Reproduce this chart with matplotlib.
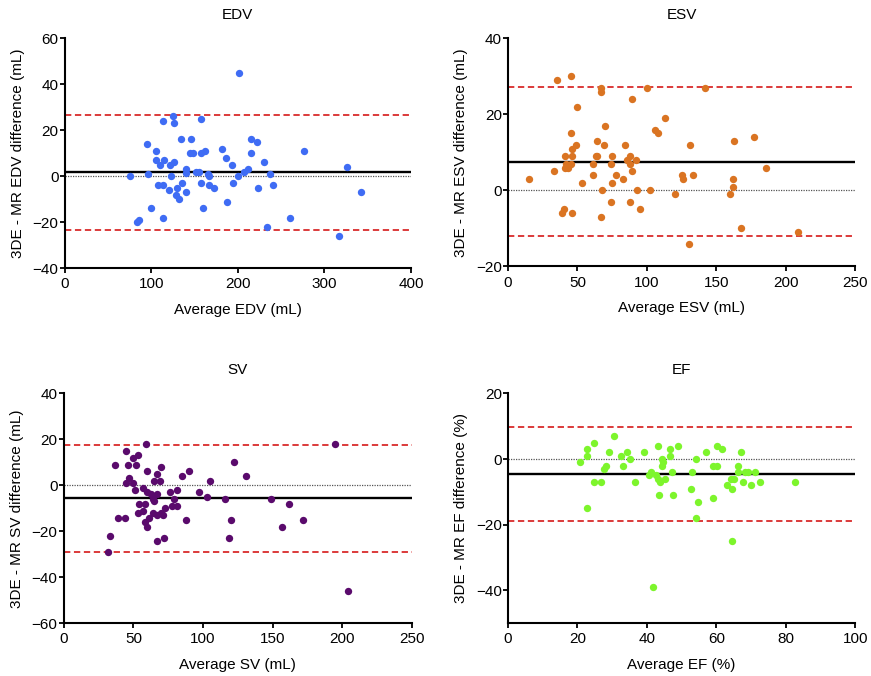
import matplotlib
matplotlib.use('Agg')
import matplotlib.pyplot as plt

plt.rcParams['font.family'] = ['Liberation Sans', 'DejaVu Sans']

# EDV: average vs difference (mL)
edv_avg = [76, 95, 96, 105, 106, 110, 115, 108, 114, 120, 100, 83, 86, 113, 113, 125, 126,
           122, 126, 123, 129, 132, 130, 135, 140, 134, 140, 140, 146, 145, 148, 152, 155,
           157, 157, 157, 162, 160, 165, 167, 167, 172, 182, 186, 193, 194, 188, 200, 201,
           207, 212, 215, 222, 215, 230, 237, 223, 241, 276, 260, 234, 326, 342, 317]
edv_diff = [0, 14, 1, 11, 7, 5, 7, -4, -4, -6, -14, -20, -19, -18, 24, 26, 23,
            5, 6, 0, -8, -10, -5, -3, -7, 16, 3, 1.5, 16, 10, 10, 2, 2,
            25, -3, 10, 11, -14, 1, 0, -4, -5, 12, 8, 5, -3, -11, 0, 45,
            2, 3, 16, 15, 10, 6, 1, -5, -4, 11, -18, -22, 4, -7, -26]
edv_bias, edv_upper, edv_lower = 1.7, 26.5, -23.2

# ESV
esv_avg = [15, 35, 45, 33, 40, 39, 46, 41, 46, 41, 43, 42, 45, 46, 45, 49, 50, 53,
           61, 61, 63, 64, 64, 67, 67, 69, 70, 68, 67, 74, 75, 78, 75, 74, 83, 84,
           86, 88, 88, 89, 92, 89, 88, 93, 95, 100, 102, 106, 108, 113, 120, 125, 126,
           131, 133, 142, 130, 160, 162, 162, 163, 177, 186, 168, 209]
esv_diff = [3, 29, 30, 5, -5, -6, -6, 9, 9, 6, 6, 7, 7, 11, 15, 12, 22, 2,
            7, 4, 9, 9, 13, 27, 26, 12, 17, 0, -7, 7, 9, 4, 2, -3, 3, 12,
            8, 9, 7, 5, 8, 24, -3, 0, -5, 27, 0, 16, 15, 19, -1, 4, 3,
            12, 4, 27, -14, -1, 3, 1, 13, 14, 6, -10, -11]
esv_bias, esv_upper, esv_lower = 7.5, 27.1, -12.1

# SV
sv_avg = [33, 32, 37, 39, 44, 45, 46, 45, 47, 50, 50, 53, 52, 51, 54, 53, 57, 58, 57,
          59, 60, 60, 58, 60, 61, 63, 64, 65, 64, 65, 67, 67, 69, 67, 67, 70, 70, 71,
          72, 73, 76, 79, 78, 81, 81, 85, 88, 90, 97, 103, 105, 116, 119, 120, 122,
          131, 149, 162, 157, 172, 195, 204]
sv_diff = [-22, -29, 9, -14, -14, 15, 9, 1, 3, 1, 12, 13, 9, -2, -8, -12, -11, -8, -1,
           18, 6, -3, -16, -18, -14, -4, -6, -7, -12, 2, 5, -4, 2, -13, -24, 8, -12, -13,
           -23, -10, -3, -6, -9, -2, -9, 4, -15, 6, -3, -5, 2, -6, -23, -15, 10,
           4, -6, -8, -18, -15, 18, -46]
sv_bias, sv_upper, sv_lower = -5.7, 17.6, -29.1

# EF (%)
ef_avg = [20.6, 22.7, 22.7, 22.7, 24.7, 24.7, 26.7, 27.6, 28.1, 29.2, 30.6, 32.6, 33.2,
          34.2, 35.1, 36.7, 39.2, 40.6, 41.1, 41.7, 42.6, 43.2, 43.2, 43.7, 43.6, 44.2,
          44.6, 44.2, 45.1, 46.6, 46.6, 47.1, 47.6, 49.0, 54.1, 53.1, 52.6, 54.6, 54.1,
          57.1, 59.1, 60.1, 60.1, 61.6, 59.1, 63.1, 64.1, 65.1, 64.6, 64.6, 66.1, 66.1,
          67.1, 67.6, 68.1, 69.1, 70.1, 71.1, 72.6, 82.6]
ef_diff = [-1, 3, 1, -15, 5, -7, -7, -3, -2, 2, 7, 1, -2,
           2, 0, -7, 2, -5, -4, -39, -5, 4, -6, -7, -11, 0,
           -1, -2, -6, 3, 1, -4, -11, 4, 0, -4, -9, -13, -18,
           2, -2, -2, 4, 3, -12, -8, -6, -6, -9, -25, -2, -4,
           2, -7, -4, -4, -8, -4, -7, -7]
ef_bias, ef_upper, ef_lower = -4.6, 9.7, -18.9

panels = [
  # title, x, y, bias, upper, lower, color, xlabel, ylabel, xlim, xticks, ylim, yticks, rect
  ('EDV', edv_avg, edv_diff, edv_bias, edv_upper, edv_lower, '#3F6CF4',
   'Average EDV (mL)', '3DE - MR EDV difference (mL)',
   (0, 400), range(0, 401, 100), (-40, 60), range(-40, 61, 20),
   [64.7/871, 1-268.3/676, 346.3/871, 230/676]),
  ('ESV', esv_avg, esv_diff, esv_bias, esv_upper, esv_lower, '#DA7422',
   'Average ESV (mL)', '3DE - MR ESV difference (mL)',
   (0, 250), range(0, 251, 50), (-20, 40), range(-20, 41, 20),
   [508/871, 1-266.5/676, 347.3/871, 228.2/676]),
  ('SV', sv_avg, sv_diff, sv_bias, sv_upper, sv_lower, '#5A0A6C',
   'Average SV (mL)', '3DE - MR SV difference (mL)',
   (0, 250), range(0, 251, 50), (-60, 40), range(-60, 41, 20),
   [63.8/871, 1-623.3/676, 347.9/871, 230/676]),
  ('EF', ef_avg, ef_diff, ef_bias, ef_upper, ef_lower, '#7DF52C',
   'Average EF (%)', '3DE - MR EF difference (%)',
   (0, 100), range(0, 101, 20), (-50, 20), range(-40, 21, 20),
   [508/871, 1-623.3/676, 347.3/871, 230/676]),
]

fig = plt.figure(figsize=(8.71, 6.76), dpi=100)

for (title, x, y, bias, upper, lower, color, xlab, ylab,
     xlim, xticks, ylim, yticks, rect) in panels:
  ax = fig.add_axes(rect)

  # zero, bias and limits of agreement
  ax.axhline(0, color='#555555', lw=0.9, linestyle=(0, (1, 1)), zorder=1)
  ax.axhline(bias, color='black', lw=1.7, zorder=2)
  for lim in (upper, lower):
    ax.axhline(lim, color='#D92B2B', lw=1.3, linestyle=(0, (3.5, 2)), zorder=2)

  ax.scatter(x, y, s=28, color=color, linewidths=0, zorder=3)

  ax.set_xlim(xlim)
  ax.set_ylim(ylim)
  ax.set_xticks(list(xticks))
  ax.set_yticks(list(yticks))

  # Prism style axes: only left and bottom
  for side in ('top', 'right'):
    ax.spines[side].set_visible(False)
  for side in ('left', 'bottom'):
    ax.spines[side].set_linewidth(1.5)
  ax.tick_params(axis='both', direction='out', length=3.5, width=1.3,
                 labelsize=11, colors='black')
  ax.tick_params(axis='x', pad=3)
  ax.tick_params(axis='y', pad=1)

  ax.set_title(title, fontsize=11, pad=14)
  ax.set_xlabel(xlab, fontsize=11)
  ax.set_ylabel(ylab, fontsize=11)
  ax.xaxis.set_label_coords(0.5, -0.15)
  ax.yaxis.set_label_coords(-0.115, 0.5)

fig.savefig('out.png', dpi=100)
